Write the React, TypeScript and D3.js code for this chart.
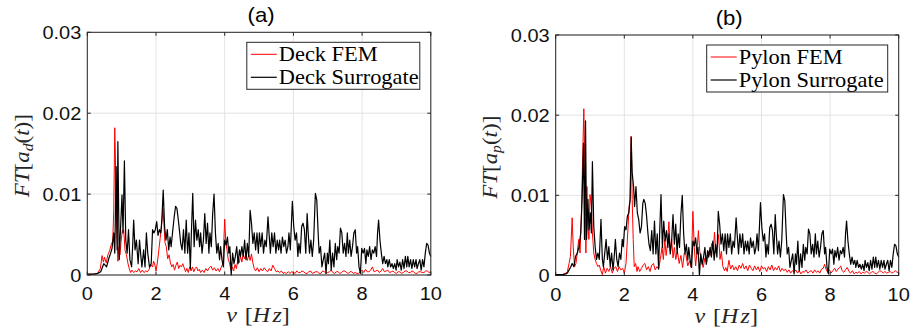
import React from 'react';
import * as d3 from 'd3';

type Pt = [number, number];

// values in units of 1e-3
const UNIT = 1e-3;
const xTicks = [0, 2, 4, 6, 8, 10];
const xTickLabels = ['0', '2', '4', '6', '8', '10'];
const yTicks = [0, 0.01, 0.02, 0.03];
const yTickLabels = ['0', '0.01', '0.02', '0.03'];
const panelTitles = ['(a)', '(b)'];
const deckLegend = ['Deck FEM', 'Deck Surrogate'];
const pylonLegend = ['Pylon FEM', 'Pylon Surrogate'];
const ySubscripts = ['d', 'p'];

const deckFEM: Pt[] = [
  [0,0.1],[0.2,0.1],[0.3,0.2],[0.38,0.8],[0.43,2.4],[0.47,1.6],[0.5,2.2],[0.55,1.5],[0.6,2.5],[0.65,3.0],[0.7,3.8],[0.74,4.2],[0.77,8.0],[0.8,18.2],[0.83,12.0],[0.86,5.0],[0.89,1.7],[0.92,3.5],[0.95,2.5],[0.98,4.0],[1.02,5.5],[1.06,5.6],[1.1,3.0],[1.14,2.5],[1.18,1.5],[1.22,0.8],[1.26,0.3],[1.3,0.6],[1.35,0.3],[1.4,0.5],[1.45,0.4],[1.5,0.8],[1.55,0.3],[1.6,0.6],[1.65,0.3],[1.7,0.5],[1.75,0.4],[1.8,0.7],[1.85,1.3],[1.9,1.0],[1.93,1.7],[1.97,1.2],[2.0,0.5],[2.04,1.5],[2.08,3.0],[2.12,4.5],[2.16,6.0],[2.2,8.2],[2.23,6.5],[2.26,4.0],[2.3,3.5],[2.34,2.0],[2.38,2.5],[2.42,1.5],[2.46,1.0],[2.5,1.3],[2.54,0.6],[2.58,1.2],[2.62,1.6],[2.66,0.8],[2.7,1.2],[2.74,1.0],[2.78,1.4],[2.82,0.9],[2.86,0.4],[2.9,0.8],[2.94,0.3],[2.98,1.0],[3.02,0.5],[3.06,1.0],[3.1,0.4],[3.14,0.8],[3.18,1.0],[3.22,0.5],[3.26,0.7],[3.3,0.3],[3.35,0.6],[3.4,0.3],[3.45,0.8],[3.5,0.5],[3.55,0.9],[3.6,1.1],[3.65,0.6],[3.7,0.9],[3.75,0.5],[3.8,0.8],[3.85,0.4],[3.9,1.0],[3.95,1.4],[4.0,6.9],[4.03,4.2],[4.07,3.0],[4.1,2.0],[4.14,1.5],[4.18,0.6],[4.22,1.0],[4.26,0.5],[4.3,1.3],[4.34,0.8],[4.38,1.8],[4.42,1.5],[4.46,2.3],[4.5,1.6],[4.54,2.6],[4.58,2.0],[4.62,2.4],[4.66,1.8],[4.7,2.5],[4.74,1.8],[4.78,2.6],[4.82,1.5],[4.86,0.8],[4.9,0.5],[4.95,0.9],[5.0,0.4],[5.05,0.8],[5.1,0.5],[5.15,0.9],[5.2,0.6],[5.25,0.4],[5.3,0.8],[5.35,0.5],[5.4,1.2],[5.45,0.8],[5.5,0.4],[5.55,0.5],[5.6,0.3],[5.65,0.5],[5.7,0.2],[5.75,0.3],[5.8,0.2],[5.85,0.4],[5.9,0.2],[5.95,0.4],[6.0,0.3],[6.05,0.2],[6.1,0.5],[6.15,0.3],[6.2,0.3],[6.25,0.5],[6.3,0.4],[6.35,0.2],[6.4,0.2],[6.45,0.4],[6.5,0.5],[6.55,0.2],[6.6,0.3],[6.65,0.4],[6.7,0.4],[6.75,0.2],[6.8,0.2],[6.85,0.5],[6.9,0.4],[6.95,0.2],[7.0,0.3],[7.05,0.4],[7.1,0.6],[7.15,0.3],[7.2,0.2],[7.25,0.4],[7.3,0.4],[7.35,0.2],[7.4,0.3],[7.45,0.5],[7.5,0.5],[7.55,0.3],[7.6,0.2],[7.65,0.4],[7.7,0.4],[7.75,0.2],[7.8,0.3],[7.85,0.2],[7.9,0.2],[7.95,0.4],[8.0,0.6],[8.05,0.3],[8.1,0.7],[8.15,0.4],[8.2,0.4],[8.25,0.6],[8.3,1.0],[8.35,0.4],[8.4,0.5],[8.45,0.6],[8.5,0.3],[8.55,0.5],[8.6,0.8],[8.65,0.4],[8.7,0.5],[8.75,0.6],[8.8,0.3],[8.85,0.4],[8.9,0.5],[8.95,0.3],[9.0,0.2],[9.05,0.4],[9.1,0.4],[9.15,0.2],[9.2,0.3],[9.25,0.5],[9.3,0.5],[9.35,0.3],[9.4,0.3],[9.45,0.5],[9.5,0.4],[9.55,0.2],[9.6,0.2],[9.65,0.4],[9.7,0.4],[9.75,0.3],[9.8,0.3],[9.85,0.5],[9.9,0.5],[9.95,0.3],[10,0.4],
];

const deckSurrogate: Pt[] = [
  [0,0.1],[0.2,0.1],[0.3,0.2],[0.39,0.4],[0.48,1.4],[0.56,1.0],[0.63,2.1],[0.68,2.7],[0.72,3.3],[0.77,5.2],[0.8,2.7],[0.84,13.4],[0.87,3.1],[0.89,16.5],[0.93,1.9],[0.97,6.0],[1.01,9.9],[1.04,5.2],[1.08,14.1],[1.12,4.3],[1.16,2.7],[1.2,5.6],[1.24,1.9],[1.29,1.0],[1.32,3.5],[1.35,6.8],[1.39,3.1],[1.43,4.3],[1.48,1.4],[1.52,4.3],[1.56,2.3],[1.59,1.0],[1.64,3.1],[1.68,1.0],[1.72,5.2],[1.76,2.7],[1.81,1.0],[1.86,1.4],[1.9,5.6],[1.94,5.2],[1.98,5.6],[2.02,6.6],[2.06,4.9],[2.1,5.6],[2.14,5.2],[2.17,6.8],[2.21,10.5],[2.25,6.0],[2.29,4.3],[2.33,5.6],[2.37,3.1],[2.41,4.7],[2.44,3.5],[2.49,5.6],[2.53,7.2],[2.57,8.5],[2.61,8.2],[2.65,6.8],[2.69,5.2],[2.72,3.9],[2.76,3.1],[2.8,5.6],[2.84,2.7],[2.88,6.8],[2.92,2.7],[2.96,5.2],[3.0,0.8],[3.03,5.2],[3.07,10.1],[3.11,3.5],[3.15,6.8],[3.19,4.3],[3.23,5.6],[3.27,3.5],[3.3,5.2],[3.34,2.7],[3.38,4.3],[3.42,7.6],[3.46,3.9],[3.5,6.4],[3.54,2.7],[3.57,5.2],[3.61,3.5],[3.65,7.6],[3.69,10.0],[3.73,5.2],[3.77,2.7],[3.81,3.9],[3.85,1.9],[3.88,3.5],[3.92,1.9],[3.96,1.0],[4.0,4.3],[4.04,3.7],[4.08,4.7],[4.12,2.7],[4.15,3.5],[4.19,0],[4.23,2.7],[4.27,1.4],[4.31,2.3],[4.35,3.5],[4.39,1.4],[4.43,3.1],[4.46,2.3],[4.5,3.5],[4.54,2.3],[4.58,4.3],[4.62,1.9],[4.66,3.9],[4.7,2.3],[4.74,8.0],[4.78,6.4],[4.82,3.9],[4.86,5.2],[4.9,3.1],[4.94,5.2],[4.98,2.7],[5.01,5.2],[5.05,3.5],[5.09,5.2],[5.13,2.7],[5.17,4.3],[5.21,3.5],[5.26,7.2],[5.29,5.2],[5.33,2.7],[5.37,5.2],[5.41,3.5],[5.45,5.2],[5.49,2.7],[5.53,4.3],[5.57,3.1],[5.6,4.3],[5.64,2.7],[5.68,4.7],[5.72,3.5],[5.76,4.3],[5.8,2.7],[5.84,3.5],[5.87,5.2],[5.91,3.1],[5.97,9.1],[6.01,6.0],[6.05,4.3],[6.09,5.2],[6.13,2.3],[6.16,3.9],[6.2,2.7],[6.24,6.0],[6.28,6.4],[6.32,5.6],[6.36,2.7],[6.4,7.6],[6.43,5.2],[6.47,2.7],[6.51,4.3],[6.55,2.3],[6.59,4.3],[6.64,10.1],[6.68,9.3],[6.72,5.2],[6.75,2.7],[6.79,3.5],[6.83,1.0],[6.87,1.9],[6.91,2.7],[6.95,0.2],[6.99,2.7],[7.02,1.4],[7.06,4.3],[7.1,0.6],[7.14,2.7],[7.18,1.0],[7.22,3.9],[7.26,1.9],[7.29,3.5],[7.33,2.7],[7.37,5.8],[7.41,5.2],[7.45,2.7],[7.49,3.9],[7.53,2.3],[7.57,5.2],[7.6,2.7],[7.64,4.3],[7.68,2.3],[7.72,3.5],[7.76,5.2],[7.8,5.6],[7.84,2.7],[7.87,3.5],[7.91,1.0],[7.95,0.2],[7.99,3.3],[8.03,2.7],[8.07,3.3],[8.11,1.4],[8.14,3.1],[8.18,2.3],[8.22,3.5],[8.26,1.9],[8.3,3.1],[8.34,2.7],[8.38,3.5],[8.42,2.3],[8.45,5.2],[8.48,6.8],[8.52,4.3],[8.56,2.7],[8.6,1.4],[8.64,2.3],[8.68,1.4],[8.72,1.9],[8.75,1.0],[8.79,1.9],[8.83,1.0],[8.87,1.4],[8.91,0.8],[8.95,1.4],[8.99,0.6],[9.02,1.9],[9.06,1.0],[9.1,1.6],[9.14,0.6],[9.18,1.9],[9.22,0.8],[9.26,2.3],[9.3,1.0],[9.33,2.3],[9.37,1.0],[9.41,1.9],[9.45,0.8],[9.49,1.9],[9.53,1.0],[9.57,1.9],[9.6,0.8],[9.64,1.4],[9.68,1.9],[9.72,0.6],[9.76,1.9],[9.8,1.0],[9.84,2.7],[9.88,3.9],[9.92,3.7],[9.96,2.7],[10,2.3],
];

const pylonFEM: Pt[] = [
  [0,0.1],[0.2,0.1],[0.3,0.3],[0.34,0.5],[0.39,1.5],[0.43,2.4],[0.46,5.3],[0.48,7.2],[0.51,3.6],[0.55,1.1],[0.59,1.5],[0.63,2.8],[0.67,4.5],[0.71,2.8],[0.75,7.8],[0.78,13.6],[0.82,20.8],[0.85,13.6],[0.88,2.8],[0.91,11.1],[0.94,6.1],[0.97,4.5],[1.0,10.1],[1.04,8.6],[1.07,5.3],[1.11,2.8],[1.15,2.0],[1.19,1.5],[1.23,1.1],[1.27,1.3],[1.31,0.7],[1.36,0.1],[1.4,1.1],[1.45,0.3],[1.5,0.9],[1.55,0.5],[1.6,1.1],[1.65,0.3],[1.7,0.9],[1.75,1.1],[1.8,0.5],[1.85,1.1],[1.9,0.7],[1.95,0.9],[2.0,0.3],[2.05,1.5],[2.1,5.3],[2.14,8.6],[2.17,9.5],[2.2,17.4],[2.23,9.5],[2.26,4.5],[2.29,1.1],[2.33,1.5],[2.37,0.5],[2.4,1.1],[2.45,0.5],[2.5,0.9],[2.55,1.3],[2.6,1.5],[2.65,0.7],[2.7,1.1],[2.75,0.5],[2.8,1.3],[2.85,1.5],[2.9,0.7],[2.95,1.1],[3.0,0.8],[3.05,2.0],[3.1,3.5],[3.14,2.0],[3.18,4.5],[3.22,2.5],[3.26,4.0],[3.3,6.7],[3.34,3.0],[3.38,4.5],[3.42,2.2],[3.46,3.5],[3.5,2.0],[3.55,3.0],[3.6,1.5],[3.65,2.5],[3.7,1.0],[3.75,2.8],[3.8,2.5],[3.85,1.2],[3.9,1.8],[3.95,1.0],[4.0,8.0],[4.04,3.5],[4.08,1.2],[4.12,3.0],[4.16,5.6],[4.2,3.0],[4.25,1.8],[4.3,1.0],[4.35,2.2],[4.4,1.5],[4.45,3.0],[4.5,2.5],[4.55,4.0],[4.6,3.5],[4.63,5.4],[4.67,2.8],[4.71,3.5],[4.75,5.1],[4.79,2.0],[4.83,3.0],[4.87,1.2],[4.92,0.6],[4.96,1.0],[5.0,0.5],[5.05,1.9],[5.1,0.8],[5.15,1.3],[5.2,0.7],[5.25,1.1],[5.3,0.6],[5.35,1.3],[5.4,0.9],[5.45,1.5],[5.5,0.8],[5.55,1.2],[5.6,0.6],[5.65,1.3],[5.7,0.9],[5.75,0.6],[5.8,1.2],[5.85,0.7],[5.9,1.1],[5.95,0.5],[6.0,1.2],[6.05,0.8],[6.1,1.0],[6.15,0.5],[6.2,1.1],[6.25,0.7],[6.3,1.3],[6.35,0.6],[6.4,1.0],[6.45,0.7],[6.5,1.2],[6.55,0.5],[6.6,0.9],[6.65,0.6],[6.7,0.8],[6.75,0.4],[6.8,0.7],[6.85,0.3],[6.9,0.6],[6.95,0.4],[7.0,0.7],[7.05,0.3],[7.1,0.6],[7.15,0.2],[7.2,0.5],[7.25,0.4],[7.3,0.7],[7.35,0.3],[7.4,0.5],[7.45,0.6],[7.5,0.3],[7.55,0.7],[7.6,0.4],[7.65,0.6],[7.7,0.3],[7.75,0.8],[7.8,0.9],[7.84,1.4],[7.88,0.8],[7.93,0.4],[7.98,0.7],[8.03,0.3],[8.08,0.6],[8.13,0.9],[8.18,0.5],[8.23,0.8],[8.28,1.0],[8.31,1.2],[8.35,0.6],[8.4,0.4],[8.45,0.7],[8.5,1.0],[8.55,0.5],[8.6,0.3],[8.65,0.6],[8.7,0.2],[8.75,0.4],[8.8,0.3],[8.85,0.5],[8.9,0.2],[8.95,0.4],[9.0,0.3],[9.05,0.5],[9.1,0.4],[9.15,0.2],[9.2,0.4],[9.25,0.5],[9.3,0.3],[9.35,0.2],[9.4,0.4],[9.45,0.6],[9.5,0.5],[9.55,0.3],[9.6,0.5],[9.65,0.3],[9.7,0.4],[9.75,0.5],[9.8,0.3],[9.85,0.4],[9.9,0.6],[9.95,0.4],[10,0.4],
];

const pylonSurrogate: Pt[] = [
  [0,0.1],[0.2,0.1],[0.3,0.2],[0.34,0.3],[0.44,1.1],[0.48,1.5],[0.53,1.1],[0.58,2.4],[0.63,2.8],[0.68,3.6],[0.73,5.3],[0.77,9.5],[0.81,16.5],[0.84,4.5],[0.87,19.3],[0.9,4.5],[0.94,9.5],[0.97,5.7],[1.01,7.8],[1.04,5.3],[1.07,14.2],[1.11,6.1],[1.15,3.6],[1.19,2.0],[1.23,2.8],[1.27,2.0],[1.32,7.0],[1.36,2.0],[1.39,1.1],[1.43,2.8],[1.47,4.5],[1.51,2.0],[1.55,3.6],[1.59,1.1],[1.63,2.8],[1.67,0.7],[1.7,2.0],[1.74,4.5],[1.78,2.0],[1.82,1.1],[1.86,2.8],[1.9,2.0],[1.94,4.5],[1.97,3.6],[2.01,6.1],[2.05,5.7],[2.09,7.4],[2.13,7.8],[2.17,9.5],[2.2,17.2],[2.23,12.8],[2.27,11.1],[2.3,8.6],[2.34,11.1],[2.38,7.8],[2.42,7.0],[2.46,5.3],[2.5,6.1],[2.54,9.0],[2.57,9.5],[2.61,9.0],[2.65,7.4],[2.69,5.2],[2.72,3.9],[2.76,3.1],[2.8,5.6],[2.84,2.7],[2.88,6.8],[2.92,2.7],[2.96,5.2],[3.0,0.8],[3.03,5.2],[3.07,10.1],[3.11,3.5],[3.15,6.8],[3.19,4.3],[3.23,5.6],[3.27,3.5],[3.3,5.2],[3.34,2.7],[3.38,4.3],[3.42,7.6],[3.46,3.9],[3.5,6.4],[3.54,2.7],[3.57,5.2],[3.61,3.5],[3.65,7.6],[3.69,10.0],[3.73,5.2],[3.77,2.7],[3.81,3.9],[3.85,1.9],[3.88,3.5],[3.92,1.9],[3.96,1.0],[4.0,4.3],[4.04,3.7],[4.08,4.7],[4.12,2.7],[4.15,3.5],[4.19,0],[4.23,2.7],[4.27,1.4],[4.31,2.3],[4.35,3.5],[4.39,1.4],[4.43,3.1],[4.46,2.3],[4.5,3.5],[4.54,2.3],[4.58,4.3],[4.62,1.9],[4.66,3.9],[4.7,2.3],[4.74,8.0],[4.78,6.4],[4.82,3.9],[4.86,5.2],[4.9,3.1],[4.94,5.2],[4.98,2.7],[5.01,5.2],[5.05,3.5],[5.09,5.2],[5.13,2.7],[5.17,4.3],[5.21,3.5],[5.26,7.2],[5.29,5.2],[5.33,2.7],[5.37,5.2],[5.41,3.5],[5.45,5.2],[5.49,2.7],[5.53,4.3],[5.57,3.1],[5.6,4.3],[5.64,2.7],[5.68,4.7],[5.72,3.5],[5.76,4.3],[5.8,2.7],[5.84,3.5],[5.87,5.2],[5.91,3.1],[5.97,9.1],[6.01,6.0],[6.05,4.3],[6.09,5.2],[6.13,2.3],[6.16,3.9],[6.2,2.7],[6.24,6.0],[6.28,6.4],[6.32,5.6],[6.36,2.7],[6.4,7.6],[6.43,5.2],[6.47,2.7],[6.51,4.3],[6.55,2.3],[6.59,4.3],[6.64,10.1],[6.68,9.3],[6.72,5.2],[6.75,2.7],[6.79,3.5],[6.83,1.0],[6.87,1.9],[6.91,2.7],[6.95,0.2],[6.99,2.7],[7.02,1.4],[7.06,4.3],[7.1,0.6],[7.14,2.7],[7.18,1.0],[7.22,3.9],[7.26,1.9],[7.29,3.5],[7.33,2.7],[7.37,5.8],[7.41,5.2],[7.45,2.7],[7.49,3.9],[7.53,2.3],[7.57,5.2],[7.6,2.7],[7.64,4.3],[7.68,2.3],[7.72,3.5],[7.76,5.2],[7.8,5.6],[7.84,2.7],[7.87,3.5],[7.91,1.0],[7.95,0.2],[7.99,3.3],[8.03,2.7],[8.07,3.3],[8.11,1.4],[8.14,3.1],[8.18,2.3],[8.22,3.5],[8.26,1.9],[8.3,3.1],[8.34,2.7],[8.38,3.5],[8.42,2.3],[8.45,5.2],[8.48,6.8],[8.52,4.3],[8.56,2.7],[8.6,1.4],[8.64,2.3],[8.68,1.4],[8.72,1.9],[8.75,1.0],[8.79,1.9],[8.83,1.0],[8.87,1.4],[8.91,0.8],[8.95,1.4],[8.99,0.6],[9.02,1.9],[9.06,1.0],[9.1,1.6],[9.14,0.6],[9.18,1.9],[9.22,0.8],[9.26,2.3],[9.3,1.0],[9.33,2.3],[9.37,1.0],[9.41,1.9],[9.45,0.8],[9.49,1.9],[9.53,1.0],[9.57,1.9],[9.6,0.8],[9.64,1.4],[9.68,1.9],[9.72,0.6],[9.76,1.9],[9.8,1.0],[9.84,2.7],[9.88,3.9],[9.92,3.7],[9.96,2.7],[10,2.3],
];

const AXIS = '#262626';
const GRID = '#e3e3e3';
const SANS = '"Liberation Sans", Arial, Helvetica, sans-serif';
const SERIF = '"Liberation Serif", "Times New Roman", serif';

interface PanelProps {
  left: number; right: number; top: number; bottom: number;
  fem: Pt[]; sur: Pt[]; title: string; legend: string[]; sub: string;
  legW: number; legLabelX: number;
}

function Panel({ left, right, top, bottom, fem, sur, title, legend, sub, legW, legLabelX }: PanelProps) {
  const x = d3.scaleLinear().domain([0, 10]).range([left, right]);
  const y = d3.scaleLinear().domain([0, 0.03]).range([bottom, top]);
  const line = d3.line<Pt>().x(d => x(d[0])).y(d => y(d[1] * UNIT));
  const tl = 3.5;
  const legX = right - 11 - legW;
  const legY = top + 10;
  const cx = (left + right) / 2;
  const cy = (top + bottom) / 2;
  return (
    <g>
      {xTicks.map(t => (
        <line key={'gx' + t} x1={x(t)} x2={x(t)} y1={top} y2={bottom} stroke={GRID} strokeWidth={1} />
      ))}
      {yTicks.map(t => (
        <line key={'gy' + t} x1={left} x2={right} y1={y(t)} y2={y(t)} stroke={GRID} strokeWidth={1} />
      ))}
      <path d={line(fem) || ''} fill="none" stroke="#ff0000" strokeWidth={1} strokeLinejoin="round" />
      <path d={line(sur) || ''} fill="none" stroke="#000000" strokeWidth={1.2} strokeLinejoin="round" />
      <rect x={left} y={top} width={right - left} height={bottom - top} fill="none" stroke={AXIS} strokeWidth={1} />
      {xTicks.map(t => (
        <g key={'tx' + t}>
          <line x1={x(t)} x2={x(t)} y1={bottom} y2={bottom - tl} stroke={AXIS} />
          <line x1={x(t)} x2={x(t)} y1={top} y2={top + tl} stroke={AXIS} />
        </g>
      ))}
      {yTicks.map(t => (
        <g key={'ty' + t}>
          <line x1={left} x2={left + tl} y1={y(t)} y2={y(t)} stroke={AXIS} />
          <line x1={right} x2={right - tl} y1={y(t)} y2={y(t)} stroke={AXIS} />
        </g>
      ))}
      {xTicks.map((t, i) => (
        <text key={'lx' + t} transform={`translate(${x(t)},${bottom + 25}) scale(1.08,1)`} textAnchor="middle"
          fontFamily={SANS} fontSize={18.5} fill="#111">{xTickLabels[i]}</text>
      ))}
      {yTicks.map((t, i) => (
        <text key={'ly' + t} transform={`translate(${left - 6},${y(t) + 6.5}) scale(1.08,1)`} textAnchor="end"
          fontFamily={SANS} fontSize={18.5} fill="#111">{yTickLabels[i]}</text>
      ))}
      <text transform={`translate(${cx + 2},${top - 10}) scale(1.08,1)`} textAnchor="middle" fontFamily={SANS} fontSize={20.5} fill="#000">{title}</text>
      <text transform={`translate(${cx - 1},${bottom + 47}) scale(1.12,1)`} textAnchor="middle" fontFamily={SERIF} fontSize={21.5} fill="#262626">
        <tspan fontStyle="italic">ν</tspan>
        <tspan dx={7}>[</tspan>
        <tspan fontStyle="italic">H</tspan>
        <tspan fontStyle="italic" dx={2}>z</tspan>
        <tspan>]</tspan>
      </text>
      <text transform={`translate(${legLabelX},${cy + 2}) rotate(-90) scale(1.12,1)`} textAnchor="middle" fontFamily={SERIF} fontSize={20.5} fill="#262626">
        <tspan fontStyle="italic">FT</tspan>
        <tspan>[</tspan>
        <tspan fontStyle="italic">a</tspan>
        <tspan fontStyle="italic" fontSize={14} dy={4}>{sub}</tspan>
        <tspan dy={-4}>(</tspan>
        <tspan fontStyle="italic">t</tspan>
        <tspan>)]</tspan>
      </text>
      <rect x={legX} y={legY} width={legW} height={47} fill="#fff" stroke={AXIS} strokeWidth={1} />
      {legend.map((lab, i) => (
        <g key={lab}>
          <line x1={legX + 4} x2={legX + 30} y1={legY + 12 + i * 23} y2={legY + 12 + i * 23}
            stroke={i === 0 ? '#ff0000' : '#000'} strokeWidth={i === 0 ? 1 : 1.2} />
          <text transform={`translate(${legX + 32},${legY + 18.5 + i * 23}) scale(1.12,1)`} fontFamily={SERIF} fontSize={20} fill="#000">{lab}</text>
        </g>
      ))}
    </g>
  );
}

export default function App() {
  return (
    <svg width={912} height={330} style={{ position: 'absolute', left: 0, top: 0, background: '#fff' }}>
      <rect x={0} y={0} width={912} height={330} fill="#fff" />
      <Panel left={87.3} right={430.8} top={32.3} bottom={275} fem={deckFEM} sur={deckSurrogate}
        title={panelTitles[0]} legend={deckLegend} sub={ySubscripts[0]} legW={173} legLabelX={29} />
      <Panel left={555.7} right={898.7} top={35} bottom={275.5} fem={pylonFEM} sur={pylonSurrogate}
        title={panelTitles[1]} legend={pylonLegend} sub={ySubscripts[1]} legW={181} legLabelX={497} />
    </svg>
  );
}
